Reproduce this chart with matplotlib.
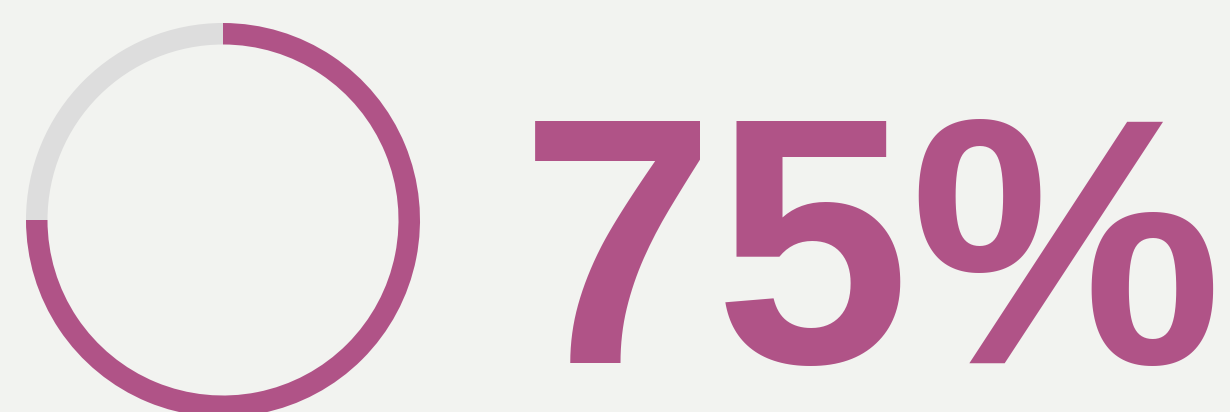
import matplotlib.pyplot as plt

# gauge value
labels = ["done", "rest"]
values = [75, 25]
value_text = "75%"

purple = "#B05387"
grey = "#DDDDDD"
bg = "#F2F3F0"

fig = plt.figure(figsize=(12.3, 4.12), dpi=100, facecolor=bg)
ax = fig.add_axes([0, 0, 1, 1])
ax.set_facecolor(bg)

# ring, clockwise from the top
ax.pie(values, colors=[purple, grey], startangle=90, counterclock=False,
       center=(223, 192), radius=197,
       wedgeprops=dict(width=21.5, linewidth=0))

ax.text(520, 49, value_text, fontsize=253, fontweight="bold",
        family="Liberation Sans", color=purple, ha="left", va="baseline")

ax.set_xlim(0, 1230)
ax.set_ylim(0, 412)
ax.set_aspect("equal")
ax.axis("off")

fig.savefig("out.png", dpi=100, facecolor=bg)
